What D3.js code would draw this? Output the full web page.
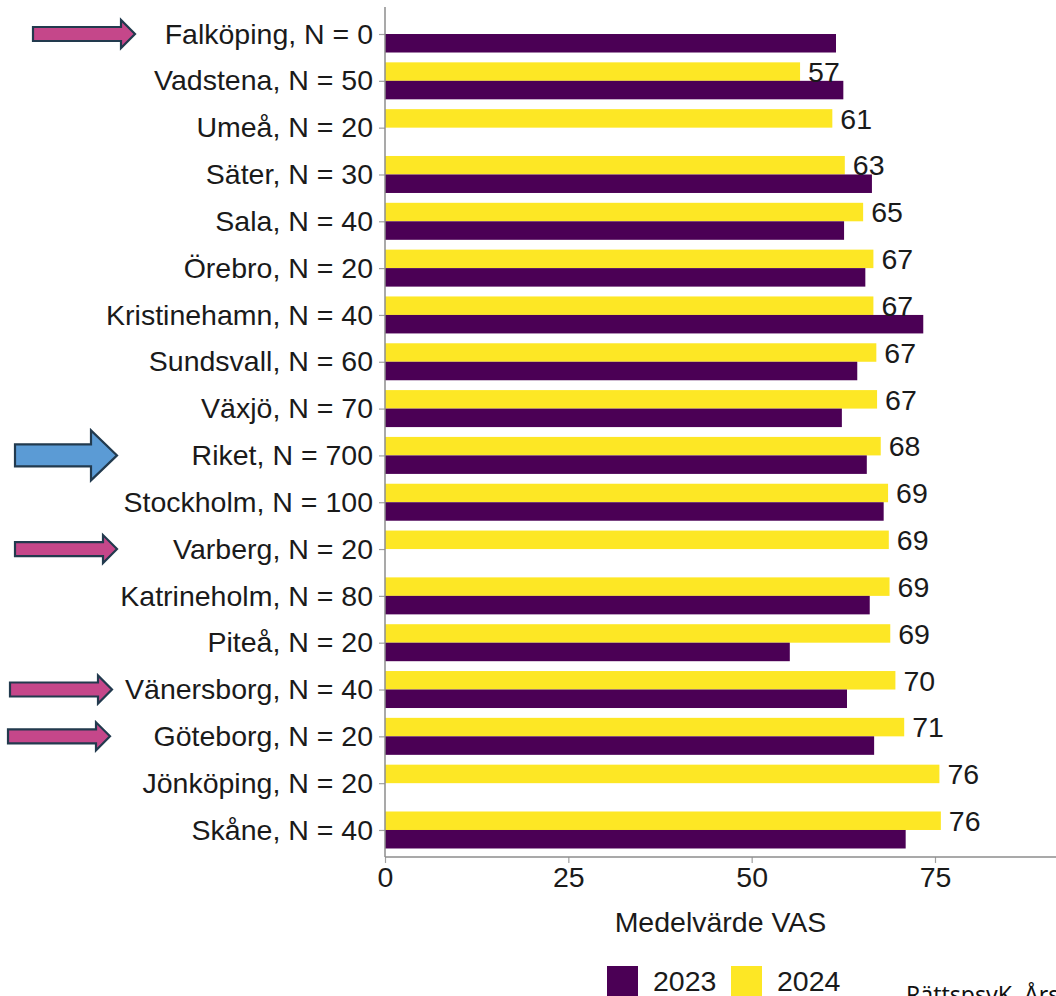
<!DOCTYPE html>
<html>
<head>
<meta charset="utf-8">
<script src="https://cdn.jsdelivr.net/npm/d3@7"></script>
<style>
  html, body { margin: 0; padding: 0; background: #fff; overflow: hidden; }
  svg { display: block; font-family: "Liberation Sans", Arial, sans-serif; }
</style>
</head>
<body>
<div id="chart"></div>
<script>
// Kategorier (uppifrån och ned) och medelvärden VAS
const categories = ["Falköping, N = 0", "Vadstena, N = 50", "Umeå, N = 20", "Säter, N = 30",
  "Sala, N = 40", "Örebro, N = 20", "Kristinehamn, N = 40", "Sundsvall, N = 60", "Växjö, N = 70",
  "Riket, N = 700", "Stockholm, N = 100", "Varberg, N = 20", "Katrineholm, N = 80", "Piteå, N = 20",
  "Vänersborg, N = 40", "Göteborg, N = 20", "Jönköping, N = 20", "Skåne, N = 40"];
const values2023 = [61.5, 62.5, null, 66.4, 62.6, 65.5, 73.4, 64.4, 62.3,
  65.7, 68.0, null, 66.1, 55.2, 63.0, 66.7, null, 71.0];
const values2024 = [null, 56.6, 61.0, 62.7, 65.2, 66.6, 66.6, 67.0, 67.1,
  67.6, 68.6, 68.7, 68.8, 68.9, 69.6, 70.8, 75.6, 75.8];
const xTicks = [0, 25, 50, 75];
const years = ["2023", "2024"];
// Pilar i marginalen
const arrows = [
  { cat: "Falköping, N = 0", kind: "pink" },
  { cat: "Riket, N = 700", kind: "blue" },
  { cat: "Varberg, N = 20", kind: "pink" },
  { cat: "Vänersborg, N = 40", kind: "pink" },
  { cat: "Göteborg, N = 20", kind: "pink" }
];

const W = 1056, H = 996;
const colors = { "2023": "#4b0055", "2024": "#fde725" };
const ink = "#1a1a1a";
const axisGrey = "#a0a0a0";
const fs = 28.5;

const svg = d3.select("#chart").append("svg")
  .attr("width", W).attr("height", H);

const x = d3.scaleLinear().domain([0, 91.5]).range([385, 1056]);
const y = d3.scalePoint().domain(categories).range([10.6, 853.4]).padding(0.5);
const barH = y.step() * 0.395;

// Staplar
const g = svg.append("g");
categories.forEach((c, i) => {
  const v23 = values2023[i], v24 = values2024[i];
  if (v24 != null) {
    g.append("rect")
      .attr("x", x(0)).attr("y", y(c) - barH)
      .attr("width", x(v24) - x(0)).attr("height", barH)
      .attr("fill", colors["2024"]);
  }
  if (v23 != null) {
    g.append("rect")
      .attr("x", x(0)).attr("y", y(c))
      .attr("width", x(v23) - x(0)).attr("height", barH)
      .attr("fill", colors["2023"]);
  }
});

// Värdeetiketter för 2024
categories.forEach((c, i) => {
  const v = values2024[i];
  if (v == null) return;
  svg.append("text")
    .attr("x", x(v) + 8).attr("y", y(c) - barH / 2)
    .attr("dy", "0.36em")
    .attr("font-size", fs).attr("fill", ink)
    .text(Math.round(v));
});

// Y-axel
const yAxis = svg.append("g")
  .attr("transform", `translate(${x(0)},0)`)
  .call(d3.axisLeft(y).tickSize(6).tickPadding(6));
yAxis.select(".domain").remove();
yAxis.selectAll("line").attr("stroke", axisGrey).attr("stroke-width", 1.2);
yAxis.selectAll("text").attr("font-size", fs).attr("fill", ink)
  .attr("font-family", "Liberation Sans, Arial, sans-serif");
svg.append("line")
  .attr("x1", x(0)).attr("x2", x(0)).attr("y1", 7).attr("y2", 857)
  .attr("stroke", "#8c8c8c").attr("stroke-width", 1.5);

// X-axel
const xAxis = svg.append("g")
  .attr("transform", "translate(0,857)")
  .call(d3.axisBottom(x).tickValues(xTicks).tickSize(6).tickPadding(4));
xAxis.select(".domain").remove();
xAxis.selectAll("line").attr("stroke", axisGrey).attr("stroke-width", 1.2);
xAxis.selectAll("text").attr("font-size", fs).attr("fill", ink)
  .attr("font-family", "Liberation Sans, Arial, sans-serif");
svg.append("line")
  .attr("x1", x(0)).attr("x2", W).attr("y1", 857).attr("y2", 857)
  .attr("stroke", "#8c8c8c").attr("stroke-width", 1.5);

svg.append("text")
  .attr("x", (x(0) + W) / 2).attr("y", 932)
  .attr("text-anchor", "middle")
  .attr("font-size", fs).attr("fill", ink)
  .text("Medelvärde VAS");

// Legend
const legend = svg.append("g").attr("transform", "translate(607,966)");
let lx = 0;
years.forEach(yr => {
  legend.append("rect").attr("x", lx).attr("y", 0)
    .attr("width", 31).attr("height", 30).attr("fill", colors[yr]);
  legend.append("text").attr("x", lx + 46).attr("y", 25)
    .attr("font-size", fs).attr("fill", ink).text(yr);
  lx += 124;
});

svg.append("text")
  .attr("x", 906).attr("y", 1003)
  .attr("font-family", "Noto Sans, sans-serif")
  .attr("font-size", 23).attr("fill", "#111")
  .text("RättspsyK, Årsrapport 2024");

// Pilar
const arrowStyle = {
  pink: { fill: "#c5478a", len: 102, shaftH: 14, headH: 28, headL: 14 },
  blue: { fill: "#5b9bd5", len: 102, shaftH: 22, headH: 50, headL: 26 }
};
const rightEdge = { "Falköping, N = 0": 135, "Riket, N = 700": 117, "Varberg, N = 20": 117,
  "Vänersborg, N = 40": 112, "Göteborg, N = 20": 110 };
arrows.forEach(a => {
  const s = arrowStyle[a.kind];
  const r = rightEdge[a.cat], l = r - s.len, cy = y(a.cat);
  const hx = r - s.headL;
  const pts = [[l, cy - s.shaftH / 2], [hx, cy - s.shaftH / 2], [hx, cy - s.headH / 2], [r, cy],
    [hx, cy + s.headH / 2], [hx, cy + s.shaftH / 2], [l, cy + s.shaftH / 2]];
  svg.append("path")
    .attr("d", d3.line()(pts) + "Z")
    .attr("fill", s.fill).attr("stroke", "#223a4e").attr("stroke-width", 2.2)
    .attr("stroke-linejoin", "miter");
});
</script>
</body>
</html>
